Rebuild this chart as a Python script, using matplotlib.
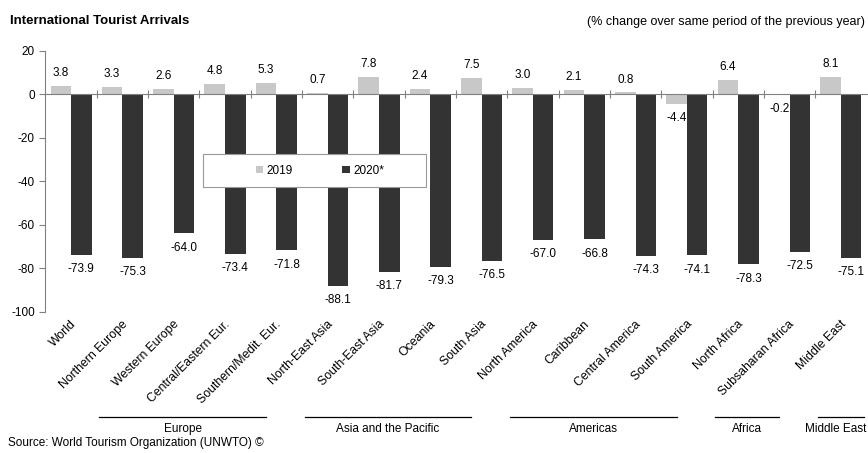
import matplotlib.pyplot as plt
from matplotlib.patches import Rectangle
from matplotlib.transforms import blended_transform_factory
import numpy as np

regions = ['World', 'Northern Europe', 'Western Europe', 'Central/Eastern Eur.',
           'Southern/Medit. Eur.', 'North-East Asia', 'South-East Asia', 'Oceania',
           'South Asia', 'North America', 'Caribbean', 'Central America',
           'South America', 'North Africa', 'Subsaharan Africa', 'Middle East']
change_2019 = [3.8, 3.3, 2.6, 4.8, 5.3, 0.7, 7.8, 2.4, 7.5, 3.0, 2.1, 0.8, -4.4, 6.4, -0.2, 8.1]
change_2020 = [-73.9, -75.3, -64.0, -73.4, -71.8, -88.1, -81.7, -79.3, -76.5, -67.0, -66.8,
               -74.3, -74.1, -78.3, -72.5, -75.1]
groups = ['Europe', 'Asia and the Pacific', 'Americas', 'Africa', 'Middle East']
group_first = [1, 5, 9, 13, 15]
group_last = [4, 8, 12, 14, 15]

plt.rcParams['font.family'] = ['Liberation Sans', 'DejaVu Sans']
plt.rcParams['font.size'] = 8.5
plt.rcParams['axes.unicode_minus'] = False

fig = plt.figure(figsize=(8.68, 4.53), dpi=100)
ax = fig.add_axes([0.0523, 0.312, 0.946, 0.576])

x = np.arange(len(regions))
w = 0.4
b19 = ax.bar(x - w / 2, change_2019, w, color='#c8c8c8', label='2019', zorder=2)
b20 = ax.bar(x + w / 2, change_2020, w, color='#333333', label='2020*', zorder=4)

# valeurs
for xs, vals, z in [(x - w / 2, change_2019, 3), (x + w / 2, change_2020, 5)]:
    for xi, v in zip(xs, vals):
        if v >= 0:
            ax.annotate(f'{v:.1f}', (xi, v), xytext=(0, 5), textcoords='offset points',
                        ha='center', va='bottom', zorder=z)
        else:
            ax.annotate(f'{v:.1f}', (xi, v), xytext=(0, -6), textcoords='offset points',
                        ha='center', va='top', zorder=z)

ax.set_xlim(-0.5, len(regions) - 0.5)
ax.set_ylim(-100, 20)
ax.set_yticks(range(-100, 21, 20))
ax.tick_params(axis='y', colors='#808080', labelcolor='black', length=4)

for s in ['top', 'right']:
    ax.spines[s].set_visible(False)
ax.spines['left'].set_color('#808080')
ax.spines['bottom'].set_position(('data', 0))
ax.spines['bottom'].set_color('#808080')
ax.spines['bottom'].set_zorder(6)
ax.set_xticks(np.arange(0.5, len(regions) - 1, 1))
ax.set_xticklabels([])
ax.tick_params(axis='x', direction='inout', length=6, colors='#808080')

trans = blended_transform_factory(ax.transData, ax.transAxes)
for xi, name in zip(x, regions):
    ax.text(xi - 0.02, -0.025, name, rotation=45, ha='right', va='top',
            rotation_mode='anchor', transform=trans, fontsize=8.8)

for g, f, l in zip(groups, group_first, group_last):
    x0 = f - 0.45
    if l > f:
        x1 = l - 0.2
        xc = (x0 + x1) / 2
    else:
        x1 = l + 0.45
        xc = l - 0.1
    ax.plot([x0, x1], [-0.403, -0.403], color='black', lw=0.9, transform=trans, clip_on=False)
    ax.text(xc, -0.425, g, ha='center', va='top', transform=trans)

fig.patches.append(Rectangle((203 / 868, 1 - 187 / 453), 223 / 868, 33 / 453,
                             transform=fig.transFigure, facecolor='white',
                             edgecolor='#999999', lw=0.8, zorder=4))
fig.legend(handles=[b19, b20], loc='center', bbox_to_anchor=(320 / 868, 1 - 170.5 / 453),
           ncol=2, frameon=False, handlelength=0.6, handleheight=0.6,
           handletextpad=0.3, columnspacing=4.2)

fig.text(10 / 868, 1 - 21 / 453, 'International Tourist Arrivals', va='center',
         fontweight='bold', fontsize=9.5)
fig.text(865 / 868, 1 - 22 / 453, '(% change over same period of the previous year)',
         ha='right', va='center', fontsize=9)
fig.text(8 / 868, 1 - 443 / 453, 'Source: World Tourism Organization (UNWTO) ©',
         va='center', fontsize=8.5)

fig.savefig('out.png', dpi=100)
